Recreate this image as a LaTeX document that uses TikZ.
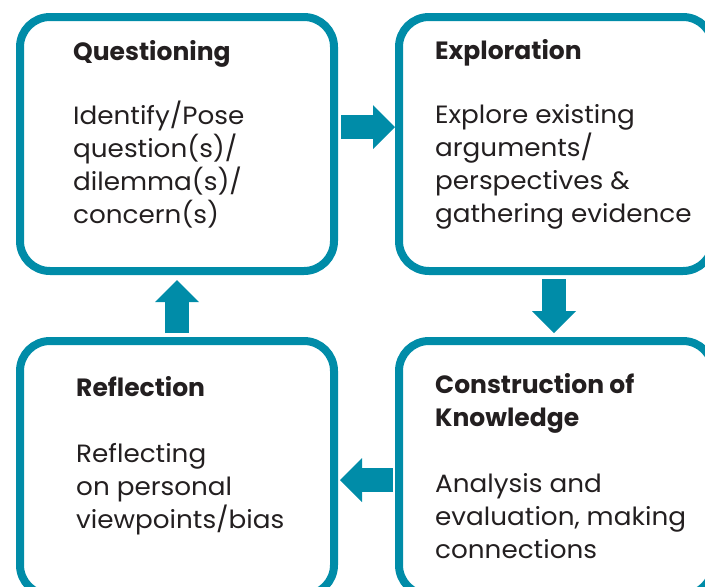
\documentclass[tikz,border=0pt]{standalone}
\usepackage{fontspec}
\setmainfont{Poppins}[UprightFeatures={FakeStretch=1.05}]
\usetikzlibrary{
  arrows.meta,
  positioning
}
\definecolor{cycleteal}{HTML}{008CA8}
\definecolor{cycletext}{HTML}{231F20}

\begin{document}
\begin{tikzpicture}[
      x=1pt, y=-1pt,
      stagebox/.style={
         rectangle,
         rounded corners=30pt,
         line width=8pt,
         draw=cycleteal,
         outer sep=0pt,
         minimum width=314pt,
         minimum height=254pt
      },
      stagetitle/.style={
         anchor=base west,
         inner sep=0pt,
         align=left,
         text=cycletext,
         font=\fontsize{25}{33}\selectfont\bfseries
      },
      stagetext/.style={
         anchor=base west,
         inner sep=0pt,
         align=left,
         text=cycletext,
         font=\fontsize{25}{33}\selectfont
      },
      blockarrow/.style={
         line width=24pt,
         draw=cycleteal,
         -{Triangle[length=22pt,width=44pt,line width=0pt]}
      }
    ]
    \useasboundingbox (0,0) rectangle (705,587);
    \clip (0,0) rectangle (705,587);
    % the four stages
    \node (quest) [stagebox] at (177,144) {};
    \node (explor) [stagebox, right=65pt of quest] {};
    \node (constr) [stagebox, below=70pt of explor] {};
    \node (reflect) [stagebox, below=70pt of quest] {};
    % labels (base = last line)
    \node (questtitle) [stagetitle] at ([xshift=53pt,yshift=-43pt]quest.north west) {Questioning};
    \node (questtext) [stagetext] at ([xshift=53pt,yshift=-206pt]quest.north west)
       {Identify/Pose\\question(s)/\\dilemma(s)/\\concern(s)};
    \node (explortitle) [stagetitle] at ([xshift=36pt,yshift=-42pt]explor.north west) {Exploration};
    \node (explortext) [stagetext] at ([xshift=36pt,yshift=-205pt]explor.north west)
       {Explore existing\\arguments/\\perspectives \&\\gathering evidence};
    \node (constrtitle) [stagetitle] at ([xshift=36pt,yshift=-85pt]constr.north west)
       {Construction of\\Knowledge};
    \node (constrtext) [stagetext] at ([xshift=36pt,yshift=-217pt]constr.north west)
       {Analysis and\\evaluation, making\\connections};
    \node (reflecttitle) [stagetitle] at ([xshift=56pt,yshift=-55pt]reflect.north west) {Reflection};
    \node (reflecttext) [stagetext] at ([xshift=56pt,yshift=-187pt]reflect.north west)
       {Reflecting\\on personal\\viewpoints/bias};
    % arrows between stages
    \draw [blockarrow, shorten <=7pt, shorten >=4pt]
       ([yshift=17pt]quest.east) -- ([yshift=17pt]explor.west);
    \draw [blockarrow, shorten <=8pt, shorten >=8pt]
       ([xshift=-2pt]explor.south) -- ([xshift=-2pt]constr.north);
    \draw [blockarrow, shorten <=6pt, shorten >=6pt]
       ([yshift=-12pt]constr.west) -- ([yshift=-12pt]reflect.east);
    \draw [blockarrow, shorten <=8pt, shorten >=9pt]
       (reflect.north) -- (quest.south);
\end{tikzpicture}
\end{document}
